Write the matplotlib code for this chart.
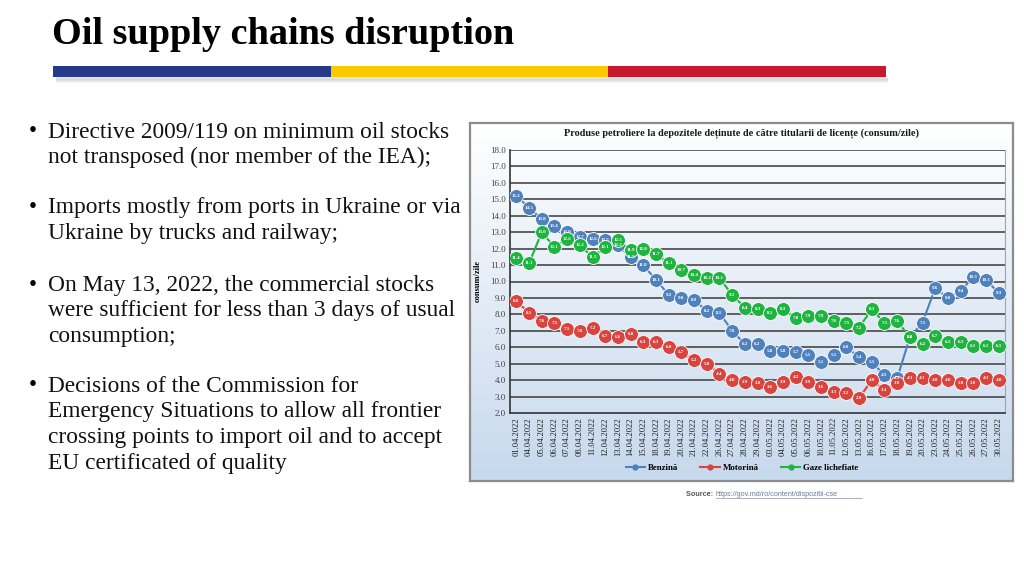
import numpy as np
import matplotlib
matplotlib.use("Agg")
import matplotlib.pyplot as plt
from matplotlib.lines import Line2D
from matplotlib.patches import Rectangle

dates = ["01.04.2022", "04.04.2022", "05.04.2022", "06.04.2022", "07.04.2022", "08.04.2022",
         "11.04.2022", "12.04.2022", "13.04.2022", "14.04.2022", "15.04.2022", "18.04.2022",
         "19.04.2022", "20.04.2022", "21.04.2022", "22.04.2022", "26.04.2022", "27.04.2022",
         "28.04.2022", "29.04.2022", "03.05.2022", "04.05.2022", "05.05.2022", "06.05.2022",
         "10.05.2022", "11.05.2022", "12.05.2022", "13.05.2022", "16.05.2022", "17.05.2022",
         "18.05.2022", "19.05.2022", "20.05.2022", "23.05.2022", "24.05.2022", "25.05.2022",
         "26.05.2022", "27.05.2022", "30.05.2022"]

benzina = [15.2, 14.5, 13.8, 13.4, 13.0, 12.7, 12.6, 12.5, 12.2, 11.5, 11.0, 10.1,
           9.2, 9.0, 8.9, 8.2, 8.1, 7.0, 6.2, 6.2, 5.8, 5.8, 5.7, 5.5,
           5.1, 5.5, 6.0, 5.4, 5.1, 4.3, 4.1, 6.6, 7.5, 9.6, 9.0, 9.4,
           10.3, 10.1, 9.3]
motorina = [8.8, 8.1, 7.6, 7.5, 7.1, 7.0, 7.2, 6.7, 6.6, 6.8, 6.3, 6.3,
            6.0, 5.7, 5.2, 5.0, 4.4, 4.0, 3.9, 3.8, 3.6, 3.9, 4.2, 3.9,
            3.6, 3.3, 3.2, 2.9, 4.0, 3.4, 3.8, 4.1, 4.1, 4.0, 4.0, 3.8,
            3.8, 4.1, 4.0]
gaze = [11.4, 11.1, 13.0, 12.1, 12.6, 12.2, 11.5, 12.1, 12.5, 11.9, 12.0, 11.7,
        11.1, 10.7, 10.4, 10.2, 10.2, 9.2, 8.4, 8.3, 8.1, 8.3, 7.8, 7.9,
        7.9, 7.6, 7.5, 7.2, 8.3, 7.5, 7.6, 6.6, 6.2, 6.7, 6.3, 6.3,
        6.1, 6.1, 6.1]

series_names = ["Benzină", "Motorină", "Gaze lichefiate"]
series_vals = [benzina, motorina, gaze]
series_colors = ["#4f81bd", "#d9443f", "#1fb33f"]

title = "Oil supply chains disruption"
bullets = [
    ["Directive 2009/119 on minimum oil stocks", "not transposed (nor member of the IEA);"],
    ["Imports mostly from ports in Ukraine or via", "Ukraine by trucks and railway;"],
    ["On May 13, 2022, the commercial stocks", "were sufficient for less than 3 days of usual", "consumption;"],
    ["Decisions of the Commission for", "Emergency Situations to allow all frontier",
     "crossing points to import oil and to accept", "EU certificated of quality"],
]
chart_title = "Produse petroliere la depozitele deținute de către titularii de licențe (consum/zile)"
ylabel = "consum/zile"
yticks = np.arange(2.0, 18.01, 1.0)

W, H = 1024, 576
fig = plt.figure(figsize=(W / 100, H / 100), dpi=100)
fig.patch.set_facecolor("white")

def fx(px):
    return px / W

def fy(py):
    return 1 - py / H

# Title
fig.text(fx(52), fy(35), title, family="Liberation Serif", fontweight="bold",
         fontsize=27.5, va="center", ha="left", color="black")

# Color bar with shadow
bar_ax = fig.add_axes([0, 0, 1, 1], zorder=0)
bar_ax.set_xlim(0, W)
bar_ax.set_ylim(H, 0)
bar_ax.axis("off")
for k, a in enumerate([0.10, 0.14, 0.18, 0.22, 0.18, 0.12, 0.07]):
    bar_ax.add_patch(Rectangle((56, 76 + k), 832, 1.2, color="#555555", alpha=a, lw=0))
for x0, x1, c in [(53, 331, "#263a8b"), (331, 608, "#fbc900"), (608, 886, "#c8182f")]:
    bar_ax.add_patch(Rectangle((x0, 66), x1 - x0, 11, color=c, lw=0))

# Bullets
line_h = 25.7
starts = [132, 208, 285, 386]
for blk, y0 in zip(bullets, starts):
    fig.text(fx(29), fy(y0), "•", family="Liberation Serif", fontsize=16.8,
             va="center", ha="left")
    for i, ln in enumerate(blk):
        fig.text(fx(48), fy(y0 + i * line_h), ln, family="Liberation Serif",
                 fontsize=16.8, va="center", ha="left", color="#111111")

# Chart background (gradient)
cx0, cy0, cx1, cy1 = 470, 123, 1013, 481
bg = fig.add_axes([fx(cx0), fy(cy1), fx(cx1 - cx0), (cy1 - cy0) / H], zorder=1)
grad = np.linspace(0, 1, 256).reshape(-1, 1)
top = np.array([1.0, 1.0, 1.0])
bot = np.array([0.78, 0.85, 0.93])
img = top[None, None, :] * (1 - grad[:, :, None]) + bot[None, None, :] * grad[:, :, None]
bg.imshow(img, aspect="auto", extent=[0, 1, 0, 1])
bg.set_xticks([])
bg.set_yticks([])
for s in bg.spines.values():
    s.set_color("#8c8c8c")
    s.set_linewidth(1.6)

# Plot axes
px0, py0, px1, py1 = 510, 150, 1005, 413
ax = fig.add_axes([fx(px0), fy(py1), fx(px1 - px0), (py1 - py0) / H], zorder=2)
ax.patch.set_alpha(0)
x = np.arange(len(dates))
ax.set_xlim(-0.5, len(dates) - 0.5)
ax.set_ylim(2.0, 18.0)
ax.set_yticks(yticks)
ax.set_yticklabels([f"{v:.1f}" for v in yticks], family="Liberation Serif",
                   fontsize=6.5, color="#444444")
ax.set_xticks(x)
ax.set_xticklabels(dates, rotation=90, family="Liberation Serif", fontsize=6.2,
                   color="#222222")
ax.tick_params(axis="both", length=0, pad=3)
for yv in yticks[1:]:
    ax.axhline(yv, color="#474747", lw=1.2, zorder=1)
ax.spines["left"].set_color("#333333")
ax.spines["bottom"].set_color("#333333")
ax.spines["left"].set_linewidth(1.2)
ax.spines["bottom"].set_linewidth(1.2)
ax.spines["top"].set_visible(False)
ax.spines["right"].set_color("#9aa5b5")
ax.spines["right"].set_linewidth(0.8)
ax.set_ylabel(ylabel, family="Liberation Serif", fontweight="bold", fontsize=6,
              labelpad=6)

for name, vals, col in zip(series_names, series_vals, series_colors):
    ax.plot(x, vals, color=col, lw=1.5, marker="o", markersize=10,
            markerfacecolor=col, markeredgecolor="#ffffff", markeredgewidth=0.6,
            zorder=3, label=name)
    for xi, v in zip(x, vals):
        ax.text(xi, v, f"{v:.1f}", ha="center", va="center", fontsize=3.6,
                color="white", fontweight="bold", family="Liberation Serif", zorder=4)

fig.text(fx(742), fy(134), chart_title, family="Liberation Serif", fontweight="bold",
         fontsize=7.4, ha="center", va="center", color="#1a1a1a", zorder=5)

handles = [Line2D([0], [0], color=c, lw=1.5, marker="o", markersize=3.5) for c in series_colors]
leg = fig.legend(handles, series_names, loc="center", bbox_to_anchor=(fx(742), fy(468)),
                 ncol=3, frameon=False, prop={"family": "Liberation Serif", "weight": "bold", "size": 6.4},
                 handlelength=2.2, columnspacing=2.5, handletextpad=0.3)
leg.set_zorder(5)

# Source
fig.text(fx(686), fy(494), "Source: ", family="Liberation Sans", fontweight="bold",
         fontsize=5.2, color="#555555", ha="left", va="center")
fig.text(fx(716), fy(494), "https://gov.md/ro/content/dispozitii-cse",
         family="Liberation Sans", fontsize=5.2, color="#6b7c99", ha="left", va="center")
bar_ax.plot([716, 862], [498, 498], color="#8896b0", lw=0.5)

fig.savefig("out.png", dpi=100, facecolor="white")
